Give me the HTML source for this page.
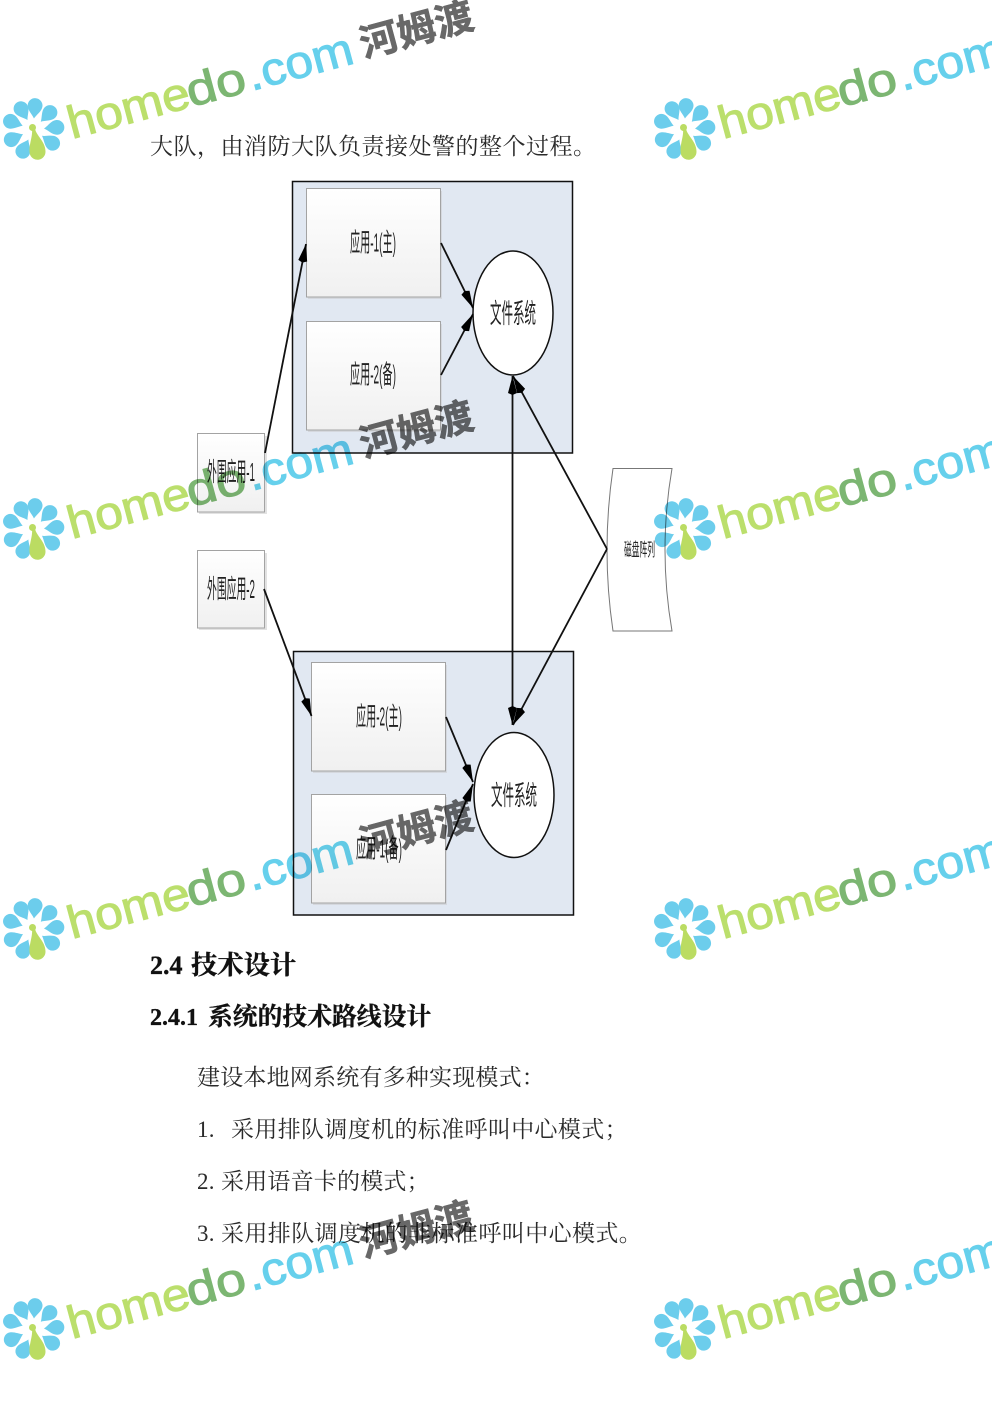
<!DOCTYPE html>
<html lang="zh">
<head>
<meta charset="utf-8">
<title>技术设计</title>
<style>
html,body{margin:0;padding:0;background:#fff;}
body{width:992px;height:1403px;overflow:hidden;position:relative;}
svg{position:absolute;left:0;top:0;display:block;}
.t{font-family:"Liberation Serif","Noto Serif CJK SC",serif;font-size:23px;letter-spacing:.2px;fill:#2a2a2a;}
.h{font-family:"Liberation Serif","Noto Serif CJK SC",serif;font-weight:700;fill:#111;stroke:#111;stroke-width:.35;}
.d{font-family:"Liberation Sans","Noto Sans CJK SC",sans-serif;font-size:26px;fill:#222;text-anchor:middle;}
.c{stroke:#111;stroke-width:1.8;fill:none;}
.home,.do,.com{font-family:"Liberation Sans",sans-serif;font-size:46px;stroke-width:1;}
.home{fill:#bbdf6c;stroke:#bbdf6c;}
.do{fill:#7cb672;stroke:#7cb672;}
.com{fill:#66d0ec;stroke:#66d0ec;}
.cn{font-family:"Liberation Sans","Noto Sans CJK SC",sans-serif;font-size:38px;font-weight:700;fill:#686868;stroke:#686868;stroke-width:.6;}
</style>
</head>
<body>
<svg width="992" height="1403" viewBox="0 0 992 1403" xmlns="http://www.w3.org/2000/svg">
<defs>
<linearGradient id="g" x1="0" y1="0" x2="0" y2="1"><stop offset="0" stop-color="#ffffff"/><stop offset="1" stop-color="#f0f0f0"/></linearGradient>
<marker id="a" markerUnits="userSpaceOnUse" markerWidth="22" markerHeight="12" refX="19" refY="5" orient="auto-start-reverse"><path d="M0,5 L2,0.5 L19,5 L2,9.5 Z" fill="#000"/></marker>
<path id="p" d="M0,-11 C-2,-15 -7.4,-19 -7.4,-24 A7.4,7.4 0 1 1 7.4,-24 C7.4,-19 2,-15 0,-11 Z"/>
<g id="f">
<g fill="#6ccdec">
<use href="#p" transform="rotate(5)"/><use href="#p" transform="rotate(45)"/><use href="#p" transform="rotate(85)"/><use href="#p" transform="rotate(125)"/><use href="#p" transform="rotate(205)"/><use href="#p" transform="rotate(245)"/><use href="#p" transform="rotate(290)"/><use href="#p" transform="rotate(330)"/>
</g>
<path d="M-1,-1 L2,-1 C3,6 12.5,12 12.5,22 A8,8 0 0 1 -3,25 C-5,16 0,8 -1,-1 Z" fill="#bbdc62"/>
<circle cx="-0.5" cy="-2" r="3.5" fill="#bbdc62"/>
</g>
</defs>

<text class="t" x="150" y="154" style="letter-spacing:.5px">大队，由消防大队负责接处警的整个过程。</text>

<!-- top container -->
<rect x="292.5" y="181.5" width="280" height="271.5" fill="#e1e8f2" stroke="#111" stroke-width="1.5"/>
<rect x="308" y="191" width="134" height="108" fill="#d5d8de"/>
<rect x="306.5" y="188.5" width="134" height="108.5" fill="url(#g)" stroke="#a3a3a3"/>
<text class="d" x="373" y="251.5" textLength="46" lengthAdjust="spacingAndGlyphs">应用-1(主)</text>
<rect x="308" y="324" width="134" height="108" fill="#d5d8de"/>
<rect x="306.5" y="321.5" width="134" height="108.5" fill="url(#g)" stroke="#a3a3a3"/>
<text class="d" x="373" y="383.5" textLength="46" lengthAdjust="spacingAndGlyphs">应用-2(备)</text>
<ellipse cx="513" cy="313" rx="40" ry="62" fill="#fff" stroke="#111" stroke-width="1.5"/>
<text class="d" x="513" y="323" style="font-size:27px" textLength="46" lengthAdjust="spacingAndGlyphs">文件系统</text>

<!-- externals -->
<rect x="199" y="436" width="68" height="78" fill="#e2e2e2"/>
<rect x="197.5" y="433.5" width="67" height="78.5" fill="url(#g)" stroke="#a3a3a3"/>
<text class="d" x="231" y="481" textLength="48" lengthAdjust="spacingAndGlyphs">外围应用-1</text>
<rect x="199" y="553" width="68" height="77" fill="#e2e2e2"/>
<rect x="197.5" y="550.5" width="67" height="77.5" fill="url(#g)" stroke="#a3a3a3"/>
<text class="d" x="231" y="598" textLength="48" lengthAdjust="spacingAndGlyphs">外围应用-2</text>

<!-- bottom container -->
<rect x="293.5" y="651.5" width="280" height="263.5" fill="#e1e8f2" stroke="#111" stroke-width="1.5"/>
<rect x="313" y="665" width="134" height="108" fill="#d5d8de"/>
<rect x="311.5" y="662.5" width="134" height="108.5" fill="url(#g)" stroke="#a3a3a3"/>
<text class="d" x="379" y="725.5" textLength="46" lengthAdjust="spacingAndGlyphs">应用-2(主)</text>
<rect x="313" y="797" width="134" height="108" fill="#d5d8de"/>
<rect x="311.5" y="794.5" width="134" height="108.5" fill="url(#g)" stroke="#a3a3a3"/>
<text class="d" x="379" y="857.5" textLength="46" lengthAdjust="spacingAndGlyphs">应用-1(备)</text>
<ellipse cx="514" cy="795" rx="40" ry="62.5" fill="#fff" stroke="#111" stroke-width="1.5"/>
<text class="d" x="514" y="805" style="font-size:27px" textLength="46" lengthAdjust="spacingAndGlyphs">文件系统</text>

<!-- disk -->
<path d="M613,468.5 L672,468.5 Q658,550 672,631 L613,631 Q601,550 613,468.5 Z" fill="#fff" stroke="#777" stroke-width="1"/>
<text class="d" x="639.5" y="556" style="font-size:18px" textLength="31" lengthAdjust="spacingAndGlyphs">磁盘阵列</text>

<!-- connectors -->
<line class="c" x1="265" y1="453" x2="306" y2="244" marker-end="url(#a)"/>
<line class="c" x1="441" y1="243" x2="473" y2="308" marker-end="url(#a)"/>
<line class="c" x1="441" y1="375" x2="473" y2="314" marker-end="url(#a)"/>
<line class="c" x1="512.5" y1="376" x2="512.5" y2="725" marker-start="url(#a)" marker-end="url(#a)"/>
<line class="c" x1="607" y1="549" x2="513" y2="376" marker-end="url(#a)"/>
<line class="c" x1="607" y1="549" x2="513" y2="725" marker-end="url(#a)"/>
<line class="c" x1="264" y1="589" x2="311.5" y2="716" marker-end="url(#a)"/>
<line class="c" x1="446" y1="717" x2="473" y2="782" marker-end="url(#a)"/>
<line class="c" x1="446" y1="850" x2="473" y2="784" marker-end="url(#a)"/>

<!-- body text -->
<text class="h" x="150" y="974" font-size="26"><tspan>2.4</tspan><tspan x="191" font-size="26.3" font-family="Noto Serif CJK SC, serif">技术设计</tspan></text>
<text class="h" x="150" y="1025" font-size="24"><tspan>2.4.1</tspan><tspan x="208" font-size="24.8" font-family="Noto Serif CJK SC, serif">系统的技术路线设计</tspan></text>
<text class="t" x="197" y="1085">建设本地网系统有多种实现模式：</text>
<text class="t" x="197" y="1137">1.</text>
<text class="t" x="231" y="1137" style="letter-spacing:.35px">采用排队调度机的标准呼叫中心模式；</text>
<text class="t" x="197" y="1189">2.</text>
<text class="t" x="221" y="1189">采用语音卡的模式；</text>
<text class="t" x="197" y="1241">3.</text>
<text class="t" x="221" y="1241" style="letter-spacing:.4px">采用排队调度机的非标准呼叫中心模式。</text>

<!-- watermarks -->
<g style="mix-blend-mode:multiply">
<use href="#f" x="33" y="129.5"/>
<g transform="rotate(-15 72 139)"><text class="home" x="72" y="139" textLength="125" lengthAdjust="spacingAndGlyphs">home</text><text class="do" x="195" y="139" textLength="60" lengthAdjust="spacingAndGlyphs">do</text><text class="com" x="258" y="139" textLength="108" lengthAdjust="spacingAndGlyphs">.com</text><text class="cn" x="375" y="136" textLength="116" lengthAdjust="spacingAndGlyphs">河姆渡</text></g>
<use href="#f" x="684" y="129.5"/>
<g transform="rotate(-15 723 139)"><text class="home" x="723" y="139" textLength="125" lengthAdjust="spacingAndGlyphs">home</text><text class="do" x="846" y="139" textLength="60" lengthAdjust="spacingAndGlyphs">do</text><text class="com" x="909" y="139" textLength="108" lengthAdjust="spacingAndGlyphs">.com</text></g>

<use href="#f" x="33" y="529.5"/>
<g transform="rotate(-15 72 539)"><text class="home" x="72" y="539" textLength="125" lengthAdjust="spacingAndGlyphs">home</text><text class="do" x="195" y="539" textLength="60" lengthAdjust="spacingAndGlyphs">do</text><text class="com" x="258" y="539" textLength="108" lengthAdjust="spacingAndGlyphs">.com</text><text class="cn" x="375" y="536" textLength="116" lengthAdjust="spacingAndGlyphs">河姆渡</text></g>
<use href="#f" x="684" y="529.5"/>
<g transform="rotate(-15 723 539)"><text class="home" x="723" y="539" textLength="125" lengthAdjust="spacingAndGlyphs">home</text><text class="do" x="846" y="539" textLength="60" lengthAdjust="spacingAndGlyphs">do</text><text class="com" x="909" y="539" textLength="108" lengthAdjust="spacingAndGlyphs">.com</text></g>

<use href="#f" x="33" y="929.5"/>
<g transform="rotate(-15 72 939)"><text class="home" x="72" y="939" textLength="125" lengthAdjust="spacingAndGlyphs">home</text><text class="do" x="195" y="939" textLength="60" lengthAdjust="spacingAndGlyphs">do</text><text class="com" x="258" y="939" textLength="108" lengthAdjust="spacingAndGlyphs">.com</text><text class="cn" x="375" y="936" textLength="116" lengthAdjust="spacingAndGlyphs">河姆渡</text></g>
<use href="#f" x="684" y="929.5"/>
<g transform="rotate(-15 723 939)"><text class="home" x="723" y="939" textLength="125" lengthAdjust="spacingAndGlyphs">home</text><text class="do" x="846" y="939" textLength="60" lengthAdjust="spacingAndGlyphs">do</text><text class="com" x="909" y="939" textLength="108" lengthAdjust="spacingAndGlyphs">.com</text></g>

<use href="#f" x="33" y="1329.5"/>
<g transform="rotate(-15 72 1339)"><text class="home" x="72" y="1339" textLength="125" lengthAdjust="spacingAndGlyphs">home</text><text class="do" x="195" y="1339" textLength="60" lengthAdjust="spacingAndGlyphs">do</text><text class="com" x="258" y="1339" textLength="108" lengthAdjust="spacingAndGlyphs">.com</text><text class="cn" x="375" y="1336" textLength="116" lengthAdjust="spacingAndGlyphs">河姆渡</text></g>
<use href="#f" x="684" y="1329.5"/>
<g transform="rotate(-15 723 1339)"><text class="home" x="723" y="1339" textLength="125" lengthAdjust="spacingAndGlyphs">home</text><text class="do" x="846" y="1339" textLength="60" lengthAdjust="spacingAndGlyphs">do</text><text class="com" x="909" y="1339" textLength="108" lengthAdjust="spacingAndGlyphs">.com</text></g>
</g>
</svg>
</body>
</html>
